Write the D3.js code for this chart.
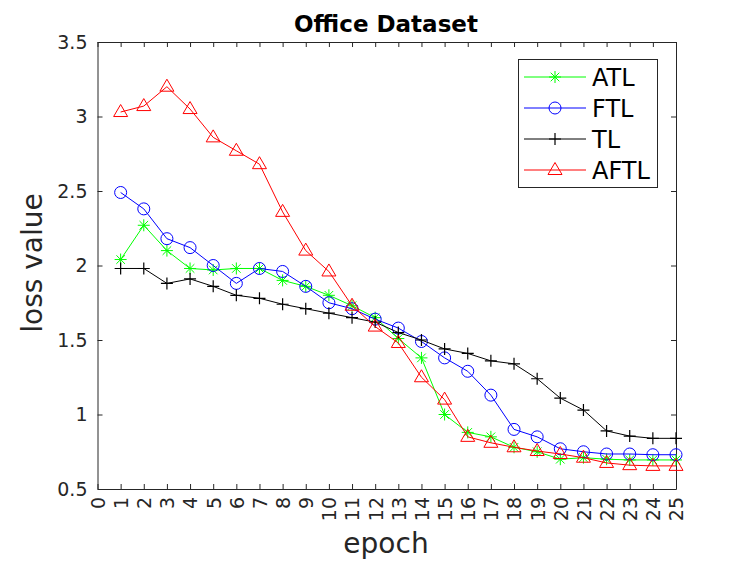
<!DOCTYPE html>
<html>
<head>
<meta charset="utf-8">
<script src="https://cdn.jsdelivr.net/npm/d3@7"></script>
<style>
  body { margin: 0; background: #fff; }
  svg { display: block; font-family: "DejaVu Sans", sans-serif; }
</style>
</head>
<body>
<svg width="747" height="561"></svg>
<script>
// data
const epochs = [1, 2, 3, 4, 5, 6, 7, 8, 9, 10, 11, 12, 13, 14, 15, 16, 17, 18, 19, 20, 21, 22, 23, 24, 25];
const atl  = [2.04, 2.27, 2.10, 1.98, 1.97, 1.98, 1.98, 1.90, 1.86, 1.80, 1.73, 1.65, 1.51, 1.38, 1.00, 0.88, 0.85, 0.78, 0.75, 0.70, 0.71, 0.70, 0.695, 0.695, 0.695];
const ftl  = [2.49, 2.38, 2.18, 2.12, 2.00, 1.88, 1.98, 1.96, 1.86, 1.75, 1.71, 1.64, 1.58, 1.49, 1.38, 1.29, 1.13, 0.90, 0.85, 0.77, 0.75, 0.735, 0.735, 0.73, 0.73];
const tl   = [1.98, 1.98, 1.88, 1.91, 1.86, 1.80, 1.78, 1.74, 1.71, 1.68, 1.65, 1.62, 1.55, 1.50, 1.44, 1.41, 1.36, 1.34, 1.24, 1.11, 1.03, 0.89, 0.855, 0.84, 0.84];
const aftl = [3.03, 3.07, 3.20, 3.05, 2.86, 2.77, 2.68, 2.36, 2.10, 1.96, 1.73, 1.59, 1.48, 1.25, 1.10, 0.85, 0.81, 0.78, 0.755, 0.735, 0.71, 0.675, 0.66, 0.655, 0.655];

const xTicks = [0, 1, 2, 3, 4, 5, 6, 7, 8, 9, 10, 11, 12, 13, 14, 15, 16, 17, 18, 19, 20, 21, 22, 23, 24, 25];
const yTicks = [0.5, 1, 1.5, 2, 2.5, 3, 3.5];

const seriesNames = ["ATL", "FTL", "TL", "AFTL"];
const seriesValues = [atl, ftl, tl, aftl];
const seriesColors = ["#00ff00", "#0000ff", "#000000", "#ff0000"];
const seriesMarkers = ["star", "circle", "plus", "triangle"];

const svg = d3.select("svg");
const axisColor = "#262626";

const x = d3.scaleLinear().domain([0, 25]).range([97.5, 676]);
const y = d3.scaleLinear().domain([0.5, 3.5]).range([489, 42]);

// markers, drawn centred on 0,0
function drawMarker(g, type, color) {
    if (type === "circle") {
        g.append("circle").attr("r", 6).attr("fill", "none").attr("stroke", color);
    } else if (type === "plus") {
        g.append("path").attr("d", "M-6,0H6M0,-6V6").attr("stroke", color).attr("stroke-width", 1.2);
    } else if (type === "star") {
        g.append("path")
            .attr("d", "M-6,0H6M0,-6V6M-4.3,-4.3L4.3,4.3M-4.3,4.3L4.3,-4.3")
            .attr("stroke", color);
    } else if (type === "triangle") {
        g.append("path").attr("d", "M0,-7.5L7,4.5H-7Z").attr("fill", "none").attr("stroke", color);
    }
}

// axes
const gx = svg.append("g")
    .attr("transform", `translate(0,${y(0.5)})`)
    .call(d3.axisBottom(x).tickValues(xTicks).tickSizeInner(-5).tickSizeOuter(0).tickFormat(d3.format("d")));
gx.selectAll("text")
    .attr("transform", "rotate(-90)")
    .attr("x", -8)
    .attr("y", 0)
    .attr("dy", "0.36em")
    .attr("text-anchor", "end");

const gy = svg.append("g")
    .attr("transform", `translate(${x(0)},0)`)
    .call(d3.axisLeft(y).tickValues(yTicks).tickSizeInner(-5).tickSizeOuter(0).tickPadding(10).tickFormat(d3.format("~g")));

const gt = svg.append("g")
    .attr("transform", `translate(0,${y(3.5)})`)
    .call(d3.axisTop(x).tickValues(xTicks).tickSizeInner(-5).tickSizeOuter(0).tickFormat(""));

const gr = svg.append("g")
    .attr("transform", `translate(${x(25)},0)`)
    .call(d3.axisRight(y).tickValues(yTicks).tickSizeInner(-5).tickSizeOuter(0).tickFormat(""));

[gx, gy, gt, gr].forEach(g => {
    g.selectAll("path, line").attr("stroke", axisColor);
    g.selectAll("text").attr("fill", axisColor).attr("font-size", 19).attr("font-family", "DejaVu Sans");
});

// lines + markers
const line = d3.line().x((d, i) => x(epochs[i])).y(d => y(d));

seriesValues.forEach((vals, k) => {
    svg.append("path")
        .datum(vals)
        .attr("d", line)
        .attr("fill", "none")
        .attr("stroke", seriesColors[k])
        .attr("stroke-width", 1);

    svg.append("g").selectAll("g")
        .data(vals)
        .join("g")
        .attr("transform", (d, i) => `translate(${x(epochs[i])},${y(d)})`)
        .each(function () { drawMarker(d3.select(this), seriesMarkers[k], seriesColors[k]); });
});

// title and axis labels
svg.append("text")
    .attr("x", 386).attr("y", 32)
    .attr("text-anchor", "middle")
    .attr("font-size", 23).attr("font-weight", "bold")
    .text("Office Dataset");

svg.append("text")
    .attr("x", 386).attr("y", 553)
    .attr("text-anchor", "middle")
    .attr("font-size", 28).attr("fill", axisColor)
    .text("epoch");

svg.append("text")
    .attr("transform", "translate(42,263) rotate(-90)")
    .attr("text-anchor", "middle")
    .attr("font-size", 28).attr("fill", axisColor)
    .text("loss value");

// legend
const legend = svg.append("g");
legend.append("rect")
    .attr("x", 518.5).attr("y", 59.5)
    .attr("width", 139).attr("height", 128)
    .attr("fill", "#fff").attr("stroke", axisColor);

seriesNames.forEach((name, k) => {
    const ly = 77 + k * 31;
    legend.append("line")
        .attr("x1", 524).attr("x2", 586).attr("y1", ly).attr("y2", ly)
        .attr("stroke", seriesColors[k]);
    drawMarker(legend.append("g").attr("transform", `translate(555,${ly})`), seriesMarkers[k], seriesColors[k]);
    legend.append("text")
        .attr("x", 592).attr("y", ly)
        .attr("dy", "0.36em")
        .attr("font-size", 24).attr("fill", "#000")
        .text(name);
});
</script>
</body>
</html>
